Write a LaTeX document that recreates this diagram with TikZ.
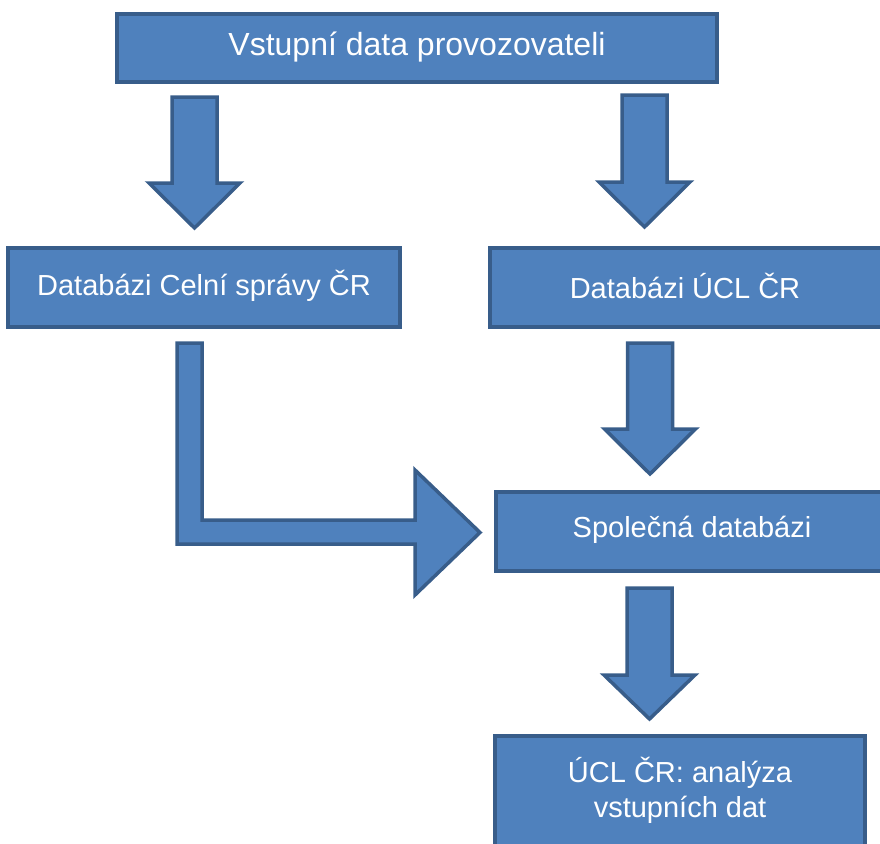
\documentclass[tikz,border=0pt]{standalone}
\usepackage{fontspec}
\setmainfont{Liberation Sans}
\definecolor{boxfill}{HTML}{4F81BD}
\definecolor{boxline}{HTML}{385D8A}
\tikzset{
  box/.style={draw=boxline, fill=boxfill, line width=4pt, rectangle, inner sep=0pt},
  label/.style={text=white, font=\fontsize{29}{35}\selectfont, align=center, inner sep=0pt},
  biglabel/.style={label, font=\fontsize{32}{38}\selectfont},
  blockarrow/.style={draw=boxline, fill=boxfill, line width=3.5pt, line join=miter},
}
\newcommand{\downblock}[4]{% cx, top, headstart, tip
  \draw[blockarrow] ({#1-22.5},#2) -- ({#1+22.5},#2) -- ({#1+22.5},#3) -- ({#1+45.5},#3)
    -- (#1,#4) -- ({#1-45.5},#3) -- ({#1-22.5},#3) -- cycle;}
\begin{document}
\begin{tikzpicture}[x=1pt,y=-1pt]
\useasboundingbox (0,0) rectangle (880,843);
\clip (0,0) rectangle (880,843);
% boxes
\node[box, minimum width=600pt, minimum height=68pt] (top) at (417,48) {};
\node[biglabel] (toptext) at (417,47) {Vstupní data provozovateli};
\node[box, minimum width=392pt, minimum height=79pt] (celni) at (204,287.5) {};
\node[label] (celnitext) at (204,286) {Databázi Celní správy ČR};
\node[box, minimum width=392pt, minimum height=79pt] (ucl) at (686,287.5) {};
\node[label] (ucltext) at (685,286) {Databázi ÚCL ČR};
\node[box, minimum width=392pt, minimum height=79pt] (spol) at (692,531.5) {};
\node[label] (spoltext) at (692,530) {Společná databázi};
\node[box, minimum width=370pt, minimum height=110pt] (anal) at (680,791) {};
\node[label] (analtext) at (680,790) {ÚCL ČR: analýza\\vstupních dat};
% down arrows
\downblock{194.5}{97}{183}{228}
\downblock{644.5}{95}{182}{227}
\downblock{650}{343}{429}{474}
\downblock{649.5}{588}{675}{719}
% bent arrow
\draw[blockarrow] (177,343) -- (202,343) -- (202,520) -- (415,520) -- (415,470) -- (480,532.5)
  -- (415,595) -- (415,544) -- (177,544) -- cycle;
\end{tikzpicture}
\end{document}
